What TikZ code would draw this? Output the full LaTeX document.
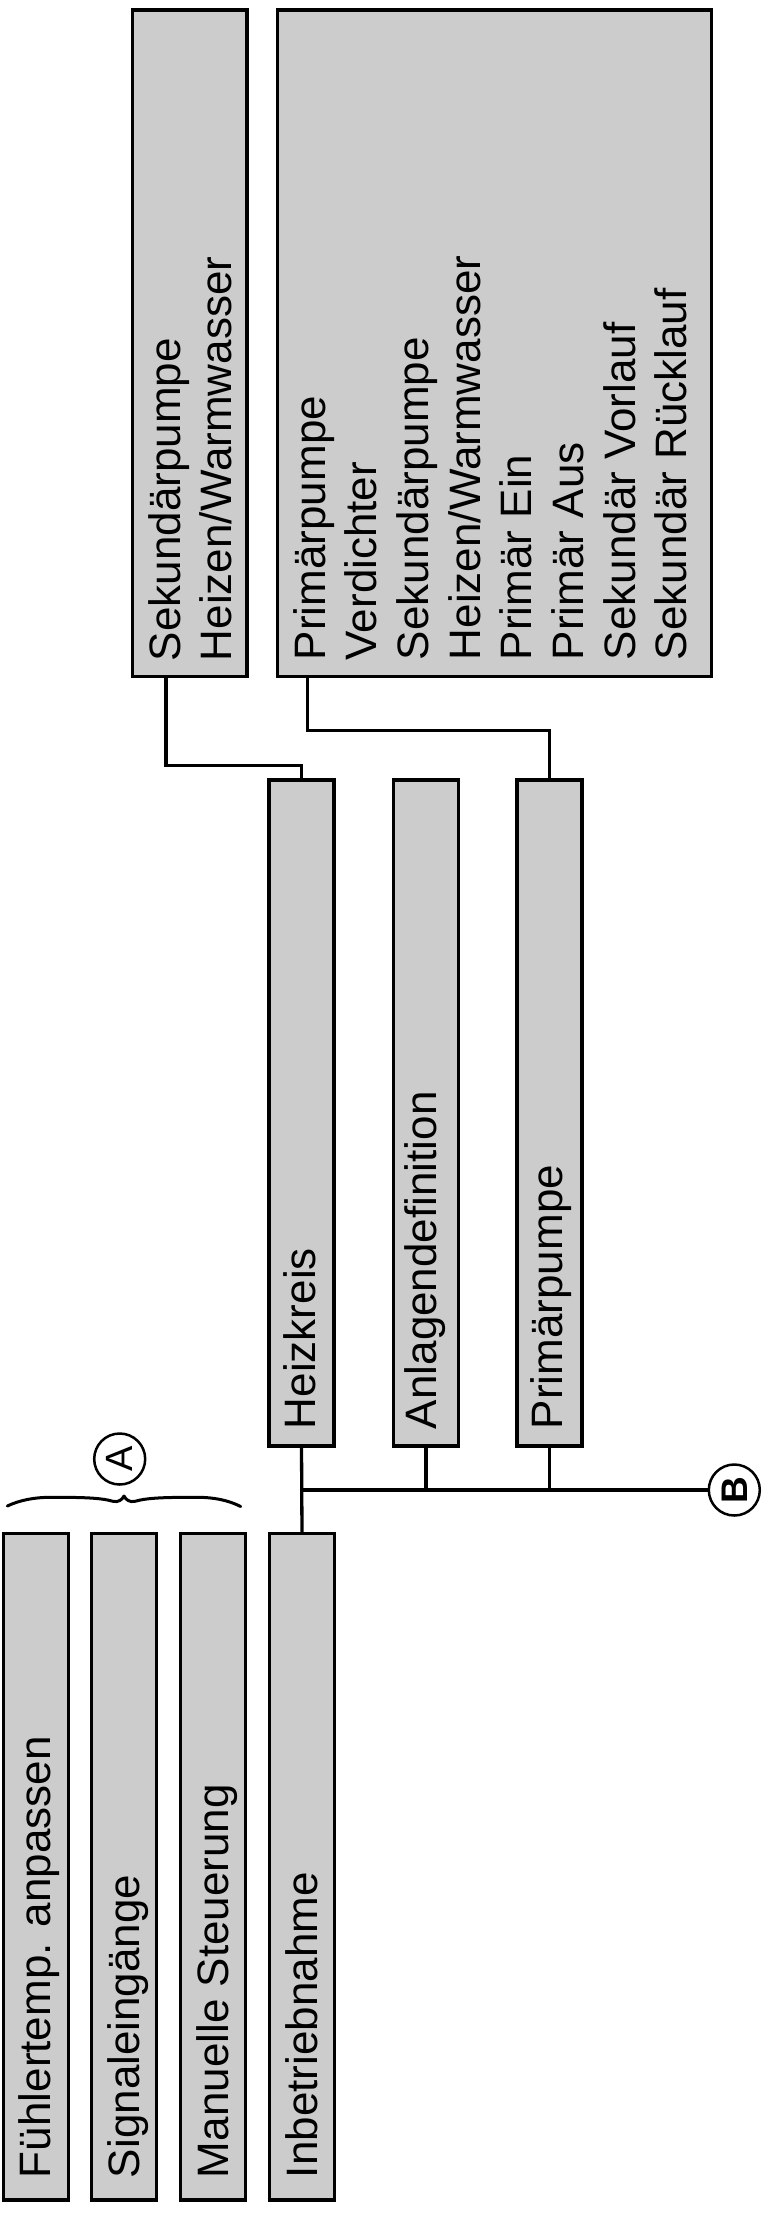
\documentclass[tikz,border=0pt]{standalone}
\usepackage{fontspec}
\setmainfont{Liberation Sans}
\usetikzlibrary{fit,calc}
\definecolor{boxgray}{RGB}{204,204,204}
\begin{document}
\begin{tikzpicture}[x=1pt,y=-1pt,
  box/.style={draw=black, fill=boxgray, line width=3.5pt, inner sep=0pt, outer sep=0pt, rectangle},
  conn/.style={line width=3.3pt},
  lbl/.style={rotate=90, anchor=base west, inner sep=0pt, outer sep=0pt, font=\fontsize{44}{51.7}\selectfont},
  refcircle/.style={draw=black, circle, line width=2.5pt, minimum size=51pt, inner sep=0pt, rotate=90}
]
\useasboundingbox (0,0) rectangle (778,2223);

% top boxes
\node[box, fit={(132.5,10) (247.2,676.5)}] (sm) {};
\node[box, fit={(277.5,10) (711.5,676.5)}] (bg) {};
% middle boxes
\node[box, fit={(269,780) (334,1446)}] (hk) {};
\node[box, fit={(393.5,780) (458.5,1446)}] (ad) {};
\node[box, fit={(517,780) (582,1446)}] (pp) {};
% left boxes
\node[box, fit={(3.5,1533.5) (68.5,2200)}] (l1) {};
\node[box, fit={(91.5,1533.5) (156.5,2200)}] (l2) {};
\node[box, fit={(180.5,1533.5) (245.5,2200)}] (l3) {};
\node[box, fit={(269.5,1533.5) (334.5,2200)}] (ib) {};

% texts top small box
\node[lbl] (sm1) at (180,661) {Sekundärpumpe};
\node[lbl] (sm2) at (231.7,661) {Heizen/Warmwasser};
% texts big box
\node[lbl] (bg1) at (325,660) {Primärpumpe};
\node[lbl] (bg2) at (376.7,660) {Verdichter};
\node[lbl] (bg3) at (428.3,660) {Sekundärpumpe};
\node[lbl] (bg4) at (480,660) {Heizen/Warmwasser};
\node[lbl] (bg5) at (531.7,660) {Primär Ein};
\node[lbl] (bg6) at (583.3,660) {Primär Aus};
\node[lbl] (bg7) at (635,660) {Sekundär Vorlauf};
\node[lbl] (bg8) at (686.7,660) {Sekundär Rücklauf};
% middle texts
\node[lbl] (hkt) at (315,1429) {Heizkreis};
\node[lbl] (adt) at (436.7,1429) {Anlagendefinition};
\node[lbl] (ppt) at (562.7,1429) {Primärpumpe};
% left texts
\node[lbl] (l1t) at (50,2178) {Fühlertemp. anpassen};
\node[lbl] (l2t) at (139,2178) {Signaleingänge};
\node[lbl] (l3t) at (228,2178) {Manuelle Steuerung};
\node[lbl] (ibt) at (317,2178) {Inbetriebnahme};

% reference markers
\node[refcircle, font=\fontsize{38}{40}\selectfont] (A) at (119.7,1459) {A};
\node[refcircle, font=\fontsize{37}{40}\selectfont\bfseries] (B) at (734.3,1490) {B};

% connectors
\draw[conn] ([xshift=33.5pt]sm.south west) -- ++(0,89.2) -| (hk.north);
\draw[conn] ([xshift=29.8pt]bg.south west) -- ++(0,54.2) -| (pp.north);
\coordinate (j) at (hk.south |- 0,1490);
\draw[conn] (hk.south) -- (ib.north);
\draw[conn] (j) -- (B);
\draw[conn] (ad.south) -- (ad.south |- j);
\draw[conn] (pp.south) -- (pp.south |- j);

% brace
\draw[line width=3pt, line cap=round, line join=round]
  (7.3,1506) .. controls (20,1500) and (35,1497.3) .. (50,1497.3)
  .. controls (80,1497.3) and (100,1497.5) .. (113,1501.3)
  .. controls (118,1502.5) and (122,1500) .. (124,1496)
  .. controls (126,1500) and (130,1502.5) .. (135,1501.3)
  .. controls (148,1497.5) and (168,1497.3) .. (198,1497.3)
  .. controls (213,1497.3) and (228,1500) .. (240.7,1506.5);
\end{tikzpicture}
\end{document}
